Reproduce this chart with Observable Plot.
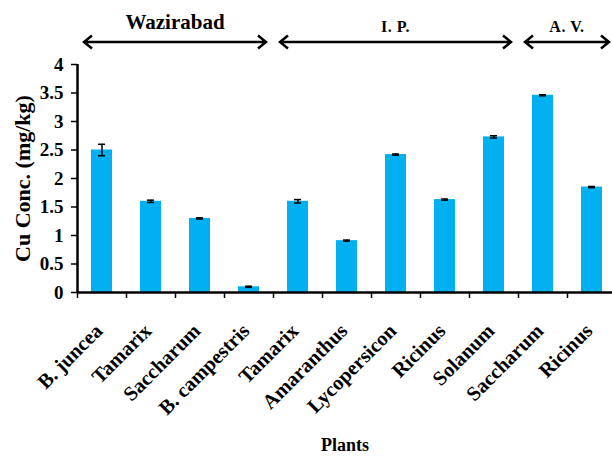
<!DOCTYPE html>
<html>
<head>
<meta charset="utf-8">
<script src="https://cdn.jsdelivr.net/npm/d3@7"></script>
<script src="https://cdn.jsdelivr.net/npm/@observablehq/plot@0.6"></script>
<style>
  html, body { margin: 0; padding: 0; background: #fff; }
</style>
</head>
<body>
<div id="chart"></div>
<script>
// ---- data ----
const plants = ["B. juncea", "Tamarix", "Saccharum", "B. campestris", "Tamarix", "Amaranthus",
                "Lycopersicon", "Ricinus", "Solanum", "Saccharum", "Ricinus"];
const cuConc = [2.50, 1.60, 1.30, 0.10, 1.60, 0.91, 2.42, 1.63, 2.73, 3.46, 1.85];
const stdErr = [0.10, 0.02, 0.01, 0.01, 0.03, 0.01, 0.01, 0.01, 0.02, 0.01, 0.01];
const groupNames = ["Wazirabad", "I. P.", "A. V."];
const groupFirst = [0, 4, 9];
const groupLast = [3, 8, 10];
const yTicks = [0, 0.5, 1, 1.5, 2, 2.5, 3, 3.5, 4];
const yLabel = "Cu Conc. (mg/kg)";
const xLabel = "Plants";

const FONT = "'Liberation Serif', 'Times New Roman', Times, serif";
const data = plants.map((p, i) => ({i, plant: p, v: cuConc[i], e: stdErr[i]}));

const xRange = [77, 616];
const step = (xRange[1] - xRange[0]) / plants.length;

const plot = Plot.plot({
  width: 612,
  height: 456,
  marginTop: 64,
  marginRight: 0,
  marginBottom: 164,
  marginLeft: 77,
  style: {fontFamily: FONT, fontWeight: "bold", fontSize: "18px", color: "#000", background: "#fff", overflow: "visible"},
  x: {type: "band", domain: d3.range(plants.length), range: xRange, paddingInner: 0.58, paddingOuter: 0.29},
  y: {domain: [0, 4], range: [292, 64]},
  marks: [
    Plot.barY(data, {x: "i", y: "v", fill: "#00B0F0"}),
    Plot.ruleX(data, {x: "i", y1: d => d.v - d.e, y2: d => d.v + d.e, stroke: "#000", strokeWidth: 1.5}),
    Plot.tickY(data, {x: "i", y: d => d.v - d.e, insetLeft: 7, insetRight: 7, stroke: "#000", strokeWidth: 1.5}),
    Plot.tickY(data, {x: "i", y: d => d.v + d.e, insetLeft: 7, insetRight: 7, stroke: "#000", strokeWidth: 1.5}),
    Plot.axisY({ticks: yTicks, tickFormat: d => String(d), tickSize: 6, tickPadding: 8, fontSize: 19, strokeWidth: 1.5, label: null}),
    Plot.axisX({tickFormat: i => plants[i], tickRotate: -45, tickSize: 0, tickPadding: 35, dx: -3, fontSize: 20.5, label: null}),
    // category boundary ticks
    Plot.ruleX(data, {x: "i", dx: -step / 2, insetTop: 222, dy: 6, stroke: "#000", strokeWidth: 1.5}),
    // axis lines
    Plot.ruleX([0], {x: d => d, dx: -step / 2, stroke: "#000", strokeWidth: 2.5}),
    Plot.ruleY([0], {stroke: "#000", strokeWidth: 2.5}),
    Plot.text([yLabel], {frameAnchor: "left", dx: -55, rotate: -90, textAnchor: "middle", lineAnchor: "middle", fontSize: 22, fill: "#000"}),
    Plot.text([xLabel], {frameAnchor: "bottom", dy: 153, textAnchor: "middle", lineAnchor: "middle", fontSize: 18, fill: "#000"})
  ]
});

// group annotations (double-headed arrows) using the plot's x scale
const sx = plot.scale("x");
const svg = d3.select(plot);
const gap = (sx.step - sx.bandwidth) / 2;
const ann = svg.append("g");
groupNames.forEach((name, k) => {
  const left = sx.apply(groupFirst[k]) - gap;
  const right = sx.apply(groupLast[k]) + sx.bandwidth + gap;
  const a = left + 7, b = right - 7, y = 42;
  ann.append("path")
    .attr("d", `M${a},${y}H${b}M${a + 8},${y - 6.5}L${a},${y}L${a + 8},${y + 6.5}M${b - 8},${y - 6.5}L${b},${y}L${b - 8},${y + 6.5}`)
    .attr("fill", "none").attr("stroke", "#000").attr("stroke-width", 2.5);
  ann.append("text")
    .attr("x", (left + right) / 2)
    .attr("y", k === 0 ? 29 : 32)
    .attr("text-anchor", "middle")
    .attr("font-family", FONT)
    .attr("font-weight", "bold")
    .attr("font-size", k === 0 ? 21 : 16)
    .attr("letter-spacing", k === 0 ? 0 : 0.5)
    .attr("fill", "#000")
    .text(name);
});

document.getElementById("chart").appendChild(plot);
</script>
</body>
</html>
